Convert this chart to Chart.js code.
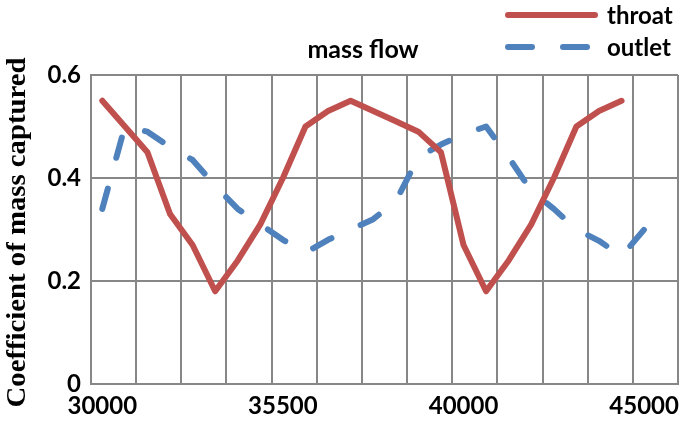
<!DOCTYPE html>
<html><head><meta charset="utf-8">
<script src="https://cdn.jsdelivr.net/npm/chart.js@4/dist/chart.umd.min.js"></script>
<style>html,body{margin:0;padding:0;background:#fff;}</style>
</head><body>
<canvas id="c" width="685" height="426"></canvas>
<script>
const categories = ['30000','','','','','','','','35500','','','','','','','','40000','','','','','','','','45000',''];
const throat = [0.55,0.50,0.45,0.33,0.27,0.18,0.24,0.31,0.40,0.50,0.53,0.55,0.53,0.51,0.49,0.45,0.27,0.18,0.24,0.31,0.40,0.50,0.53,0.55,null,null];
const outlet = [0.34,0.50,0.49,0.46,0.435,0.385,0.34,0.31,0.28,0.255,0.28,0.30,0.32,0.355,0.44,0.465,0.485,0.50,0.44,0.375,0.34,0.30,0.278,0.248,0.30,null];
const yTicks = [0, 0.2, 0.4, 0.6];
const seriesNames = ['throat', 'outlet'];
const titleText = 'mass flow';
const yTitleText = 'Coefficient of mass captured';

const GRID = '#878787';
const FONT = 'Lato';

const textPlugin = {
  id: 'texts',
  afterDraw(chart) {
    const ctx = chart.ctx;
    const area = chart.chartArea;
    // chart title
    ctx.save();
    ctx.fillStyle = '#000';
    ctx.font = 'bold 25px ' + FONT;
    ctx.textAlign = 'center';
    ctx.textBaseline = 'alphabetic';
    ctx.fillText(titleText, 363, 58);
    ctx.restore();
    // y axis title
    ctx.save();
    ctx.fillStyle = '#000';
    ctx.translate(25, (area.top + area.bottom) / 2 + 3);
    ctx.rotate(-Math.PI / 2);
    ctx.font = 'bold 28px "Liberation Serif"';
    const w = ctx.measureText(yTitleText).width;
    ctx.scale(350 / w, 1);
    ctx.textAlign = 'center';
    ctx.textBaseline = 'alphabetic';
    ctx.fillText(yTitleText, 0, 0);
    ctx.restore();
    // legend
    chart.data.datasets.forEach((ds, i) => {
      const y = 15 + i * 32;
      ctx.save();
      ctx.strokeStyle = ds.borderColor;
      ctx.lineWidth = ds.borderWidth;
      ctx.lineCap = 'round';
      ctx.setLineDash(ds.borderDash ? [24, 31] : []);
      ctx.beginPath();
      ctx.moveTo(508, y);
      ctx.lineTo(595, y);
      ctx.stroke();
      ctx.setLineDash([]);
      ctx.fillStyle = '#000';
      ctx.font = 'bold 24px ' + FONT;
      ctx.textAlign = 'left';
      ctx.textBaseline = 'middle';
      ctx.fillText(ds.label, 607, y + 1);
      ctx.restore();
    });
  }
};

new Chart(document.getElementById('c'), {
  type: 'line',
  data: {
    labels: categories,
    datasets: [
      { label: seriesNames[0], data: throat, borderColor: '#C0504D', borderWidth: 6,
        borderCapStyle: 'round', borderJoinStyle: 'round', pointRadius: 0, tension: 0, fill: false },
      { label: seriesNames[1], data: outlet, borderColor: '#4F81BD', borderWidth: 6, borderDash: [21, 32],
        borderCapStyle: 'round', borderJoinStyle: 'round', pointRadius: 0, tension: 0, fill: false }
    ]
  },
  options: {
    responsive: false,
    animation: false,
    devicePixelRatio: 1,
    layout: { padding: { top: 75, right: 7, left: 0, bottom: 0 } },
    plugins: { legend: { display: false }, title: { display: false }, tooltip: { enabled: false } },
    scales: {
      x: {
        type: 'category',
        offset: true,
        grid: {
          offset: true,
          color: c => (c.index === undefined || c.index % 2 === 0) ? GRID : 'rgba(0,0,0,0)',
          lineWidth: 2,
          drawTicks: false
        },
        border: { color: GRID, width: 2 },
        ticks: { autoSkip: false, maxRotation: 0, minRotation: 0, padding: 8, color: '#000',
                 font: { family: FONT, weight: 'bold', size: 24 } },
        afterFit: s => { s.height = 42; }
      },
      y: {
        min: 0, max: 0.6,
        afterBuildTicks: s => { s.ticks = yTicks.map(v => ({ value: v })); },
        grid: { color: GRID, lineWidth: 2, drawTicks: false },
        border: { color: GRID, width: 2 },
        ticks: { padding: 10, color: '#000', font: { family: FONT, weight: 'bold', size: 24 },
                 callback: v => v === 0 ? '0' : v.toFixed(1) },
        afterFit: s => { s.width = 91; }
      }
    }
  },
  plugins: [textPlugin]
});
</script>
</body></html>
